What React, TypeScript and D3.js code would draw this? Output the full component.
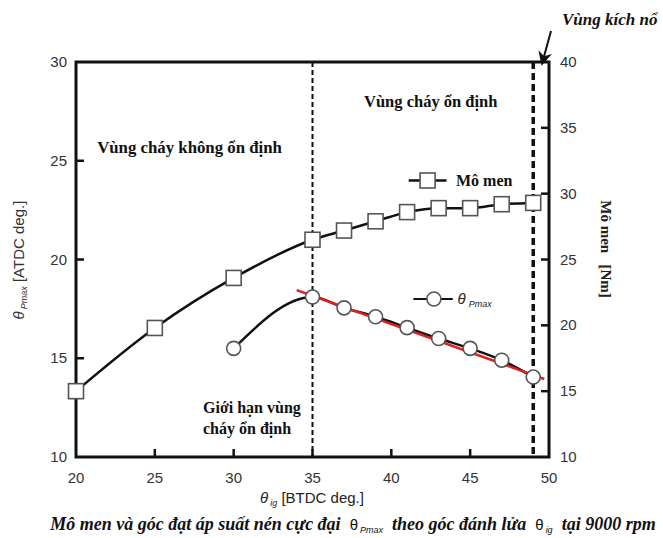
import React from "react";
import * as d3 from "d3";

const igAngles = [20, 25, 30, 35, 37, 39, 41, 43, 45, 47, 49];
const torque = [15.0, 19.8, 23.6, 26.5, 27.2, 27.9, 28.6, 28.9, 28.9, 29.2, 29.3];
const thetaX = [30, 35, 37, 39, 41, 43, 45, 47, 49];
const thetaPmax = [15.5, 18.1, 17.55, 17.1, 16.55, 16.0, 15.5, 14.9, 14.05];
const fitX = [34, 49.7];
const fitY = [18.45, 13.95];
const xTicks = [20, 25, 30, 35, 40, 45, 50];
const yLeftTicks = [10, 15, 20, 25, 30];
const yRightTicks = [10, 15, 20, 25, 30, 35, 40];
const stableLimit = 35;
const knockLimit = 49;

const W = 663;
const H = 538;
const serif = "'Liberation Serif', 'Times New Roman', serif";
const sans = "'Liberation Sans', Arial, sans-serif";

export default function App() {
  const x = d3.scaleLinear().domain([20, 50]).range([76, 549]);
  const yL = d3.scaleLinear().domain([10, 30]).range([457, 62]);
  const yR = d3.scaleLinear().domain([10, 40]).range([457, 62]);

  const torqueLine = d3
    .line<number>()
    .x((_, i) => x(igAngles[i]))
    .y((d) => yR(d))
    .curve(d3.curveMonotoneX)(torque) as string;
  const thetaLine = d3
    .line<number>()
    .x((_, i) => x(thetaX[i]))
    .y((d) => yL(d))
    .curve(d3.curveMonotoneX)(thetaPmax) as string;
  const fitLine = d3
    .line<number>()
    .x((_, i) => x(fitX[i]))
    .y((d) => yL(d))(fitY) as string;

  const sq = 15;
  const cr = 7;
  const x0 = x(20), x1 = x(50), yT = yL(30), yB = yL(10);

  return (
    <svg width={W} height={H} style={{ position: "absolute", left: 0, top: 0, background: "#fff" }}>
      <defs>
        <marker id="arr" viewBox="0 0 10 10" refX="8" refY="5" markerWidth="7" markerHeight="7" orient="auto">
          <path d="M0,0 L10,5 L0,10 L3,5 z" fill="#111" />
        </marker>
      </defs>
      <rect width={W} height={H} fill="#fff" />

      {/* dashed boundaries */}
      <line x1={x(stableLimit)} x2={x(stableLimit)} y1={yT} y2={yB} stroke="#111" strokeWidth={2} strokeDasharray="5,3" />
      <line x1={x(knockLimit)} x2={x(knockLimit)} y1={yT} y2={yB} stroke="#111" strokeWidth={3.5} strokeDasharray="7,4" />

      {/* ticks */}
      {xTicks.filter((t) => t > 20 && t < 50).map((t) => (
        <line key={"xt" + t} x1={x(t)} x2={x(t)} y1={yB} y2={yB - 8} stroke="#111" strokeWidth={2.5} />
      ))}
      {yLeftTicks.filter((t) => t > 10 && t < 30).map((t) => (
        <line key={"yl" + t} x1={x0} x2={x0 + 8} y1={yL(t)} y2={yL(t)} stroke="#111" strokeWidth={2.5} />
      ))}
      {yRightTicks.filter((t) => t > 10 && t < 40).map((t) => (
        <line key={"yr" + t} x1={x1} x2={x1 - 8} y1={yR(t)} y2={yR(t)} stroke="#111" strokeWidth={2.5} />
      ))}

      {/* frame */}
      <rect x={x0} y={yT} width={x1 - x0} height={yB - yT} fill="none" stroke="#111" strokeWidth={3} />

      {/* tick labels */}
      {xTicks.map((t) => (
        <text key={"xl" + t} x={x(t)} y={483} textAnchor="middle" fontFamily={sans} fontSize={15} fill="#333">{t}</text>
      ))}
      {yLeftTicks.map((t) => (
        <text key={"yll" + t} x={67} y={yL(t) + 5} textAnchor="end" fontFamily={sans} fontSize={15} fill="#333">{t}</text>
      ))}
      {yRightTicks.map((t) => (
        <text key={"yrl" + t} x={560} y={yR(t) + 5} textAnchor="start" fontFamily={sans} fontSize={15} fill="#333">{t}</text>
      ))}

      {/* series lines */}
      <path d={torqueLine} fill="none" stroke="#111" strokeWidth={2.5} />
      <path d={thetaLine} fill="none" stroke="#111" strokeWidth={2.5} />
      <path d={fitLine} fill="none" stroke="#e0201c" strokeWidth={2.5} />

      {/* markers */}
      {torque.map((v, i) => (
        <rect key={"s" + i} x={x(igAngles[i]) - sq / 2} y={yR(v) - sq / 2} width={sq} height={sq} fill="#fff" stroke="#555" strokeWidth={1.6} />
      ))}
      {thetaPmax.map((v, i) => (
        <circle key={"c" + i} cx={x(thetaX[i])} cy={yL(v)} r={cr} fill="#fff" stroke="#555" strokeWidth={1.6} />
      ))}

      {/* legends */}
      <line x1={x(41.1)} x2={x(43.5)} y1={yR(31.0)} y2={yR(31.0)} stroke="#111" strokeWidth={2.5} />
      <rect x={x(42.3) - sq / 2} y={yR(31.0) - sq / 2} width={sq} height={sq} fill="#fff" stroke="#555" strokeWidth={1.6} />
      <text x={x(44.1)} y={yR(31.0) + 5} fontFamily={serif} fontWeight="bold" fontSize={16} fill="#111">Mô men</text>

      <line x1={x(41.4)} x2={x(43.9)} y1={yL(18.0)} y2={yL(18.0)} stroke="#111" strokeWidth={2.2} />
      <circle cx={x(42.7)} cy={yL(18.0)} r={cr} fill="#fff" stroke="#555" strokeWidth={1.6} />
      <text x={x(44.2)} y={yL(18.0) + 5} fontFamily={sans} fontSize={15} fill="#222">
        <tspan fontStyle="italic">θ</tspan>
        <tspan dx={3} dy={3} fontSize={9} fontStyle="italic">Pmax</tspan>
      </text>

      {/* region annotations */}
      <text x={x(42.5)} y={yL(27.7)} textAnchor="middle" fontFamily={serif} fontWeight="bold" fontSize={16.5} fill="#111">Vùng cháy ổn định</text>
      <text x={x(27.2)} y={yL(25.4)} textAnchor="middle" fontFamily={serif} fontWeight="bold" fontSize={16.8} fill="#111">Vùng cháy không ổn định</text>
      <text x={203} y={413} fontFamily={serif} fontWeight="bold" fontSize={16} fill="#111">Giới hạn vùng</text>
      <text x={203} y={434} fontFamily={serif} fontWeight="bold" fontSize={16} fill="#111">cháy ổn định</text>

      <text x={562} y={25} fontFamily={serif} fontWeight="bold" fontStyle="italic" fontSize={17} fill="#111">Vùng kích nổ</text>
      <line x1={551} y1={31} x2={x(knockLimit) + 9} y2={yT + 1} stroke="#111" strokeWidth={2} markerEnd="url(#arr)" />

      {/* axis titles */}
      <text transform={`translate(24, 260) rotate(-90)`} textAnchor="middle" fontFamily={sans} fontSize={15} fill="#333">
        <tspan fontStyle="italic">θ</tspan>
        <tspan dx={2} dy={3} fontSize={9} fontStyle="italic">Pmax</tspan>
        <tspan dy={-3}> [ATDC deg.]</tspan>
      </text>
      <text transform={`translate(601, 249) rotate(90)`} textAnchor="middle" fontFamily={serif} fontWeight="bold" fontSize={15} fill="#222" style={{ whiteSpace: "pre" }}>Mô men   [Nm]</text>
      <text x={312} y={503} textAnchor="middle" fontFamily={sans} fontSize={15} fill="#222">
        <tspan fontStyle="italic">θ</tspan>
        <tspan dx={2} dy={3} fontSize={9} fontStyle="italic">ig</tspan>
        <tspan dy={-3}> [BTDC deg.]</tspan>
      </text>

      {/* caption */}
      <text x={353} y={530} textAnchor="middle" fontFamily={serif} fontWeight="bold" fontStyle="italic" fontSize={18} fill="#111" style={{ whiteSpace: "pre" }}>
        <tspan>Mô men và góc đạt áp suất nén cực đại  </tspan>
        <tspan fontFamily={sans} fontWeight="normal" fontStyle="normal" fontSize={15}>θ</tspan>
        <tspan fontFamily={sans} fontWeight="normal" fontStyle="italic" fontSize={9} dx={2} dy={3}>Pmax</tspan>
        <tspan dy={-3}>  theo góc đánh lửa  </tspan>
        <tspan fontFamily={sans} fontWeight="normal" fontStyle="normal" fontSize={15}>θ</tspan>
        <tspan fontFamily={sans} fontWeight="normal" fontStyle="italic" fontSize={9} dx={2} dy={3}>ig</tspan>
        <tspan dy={-3}>  tại 9000 rpm</tspan>
      </text>
    </svg>
  );
}
